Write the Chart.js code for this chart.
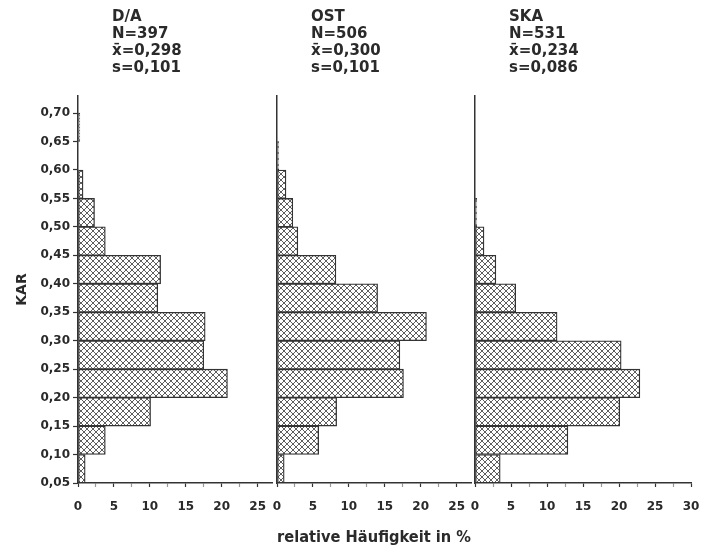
<!DOCTYPE html>
<html>
<head>
<meta charset="utf-8">
<script src="https://cdn.jsdelivr.net/npm/chart.js@4.4.0/dist/chart.umd.min.js"></script>
<style>
  html, body { margin: 0; padding: 0; background: #fff; }
  #wrap { position: relative; width: 714px; height: 555px; }
  canvas { position: absolute; top: 0; }
</style>
</head>
<body>
<div id="wrap">
  <canvas id="c1" width="284" height="555" style="left:0px"></canvas>
  <canvas id="c2" width="226" height="555" style="left:257px"></canvas>
  <canvas id="c3" width="258" height="555" style="left:455px"></canvas>
</div>
<script>
// Klassen der KAR-Werte (untere Grenze, Breite 0,05)
const klassen = [0.05, 0.10, 0.15, 0.20, 0.25, 0.30, 0.35, 0.40, 0.45, 0.50, 0.55, 0.60, 0.65];
const breite = 0.05;

// relative Häufigkeit in % je Klasse
const daWerte  = [1.0, 3.8, 10.1, 20.8, 17.5, 17.7, 11.1, 11.5, 3.8, 2.3, 0.7, 0, 0.25];
const ostWerte = [1.0, 5.8, 8.3, 17.6, 17.1, 20.8, 14.0, 8.2, 2.9, 2.2, 1.25, 0.25, 0];
const skaWerte = [3.5, 12.9, 20.1, 22.9, 20.3, 11.4, 5.65, 2.9, 1.25, 0.25, 0, 0, 0];

// Achsen
const yTicks = [0.05, 0.10, 0.15, 0.20, 0.25, 0.30, 0.35, 0.40, 0.45, 0.50, 0.55, 0.60, 0.65, 0.70];
const xTicksKurz = [0, 2.5, 5, 7.5, 10, 12.5, 15, 17.5, 20, 22.5, 25];
const xTicksLang = [0, 2.5, 5, 7.5, 10, 12.5, 15, 17.5, 20, 22.5, 25, 27.5, 30];

// Kopfzeilen
const kopfDA  = ['D/A', 'N=397', 'x\u0304=0,298', 's=0,101'];
const kopfOST = ['OST', 'N=506', 'x\u0304=0,300', 's=0,101'];
const kopfSKA = ['SKA', 'N=531', 'x\u0304=0,234', 's=0,086'];

const schrift = 'DejaVu Sans';
const dunkel = '#2a2a2a';

// Kreuzschraffur fuer die Balken
const kachel = document.createElement('canvas');
kachel.width = 6;
kachel.height = 6;
const kc = kachel.getContext('2d');
kc.fillStyle = '#fff';
kc.fillRect(0, 0, 6, 6);
kc.strokeStyle = '#5e5e5e';
kc.lineWidth = 1;
kc.beginPath();
kc.moveTo(-1, -1); kc.lineTo(7, 7);
kc.moveTo(7, -1); kc.lineTo(-1, 7);
kc.stroke();
const schraffur = kc.createPattern(kachel, 'repeat');

// Plugin: Kopfzeilen ueber jedem Histogramm
const kopfPlugin = {
  id: 'kopf',
  afterDraw(chart, args, opts) {
    const ctx = chart.ctx;
    ctx.save();
    ctx.font = 'bold 15px "' + schrift + '"';
    ctx.fillStyle = dunkel;
    ctx.textBaseline = 'middle';
    ctx.textAlign = 'left';
    opts.zeilen.forEach((t, i) => {
      ctx.fillText(t, chart.chartArea.left + opts.abstand, 17 + i * 17);
    });
    ctx.restore();
  }
};

const zeichne = (id, werte, kopf, xMax, xTicks, erste, mitte, rechts) => {
  const ctx = document.getElementById(id);
  return new Chart(ctx, {
    type: 'bar',
    data: {
      datasets: [{
        data: klassen.map((k, i) => ({ x: werte[i], y: k + breite / 2 })),
        backgroundColor: schraffur,
        borderColor: '#333',
        borderWidth: 1.3,
        borderSkipped: false,
        barPercentage: 1,
        categoryPercentage: 1
      }]
    },
    plugins: [kopfPlugin],
    options: {
      indexAxis: 'y',
      responsive: false,
      animation: false,
      devicePixelRatio: 1,
      layout: { padding: { top: 96, right: rechts, left: 0, bottom: 0 } },
      plugins: {
        legend: { display: false },
        tooltip: { enabled: false },
        kopf: { zeilen: kopf, abstand: 34 }
      },
      scales: {
        y: {
          type: 'linear',
          min: 0.05,
          max: 0.73,
          offset: false,
          afterBuildTicks: (axis) => { axis.ticks = yTicks.map(v => ({ value: v })); },
          afterFit: (axis) => { axis.width = erste ? 78 : 20; },
          ticks: {
            display: erste,
            padding: 3,
            color: dunkel,
            font: { family: schrift, size: 12, weight: 'bold' },
            callback: (v) => v.toFixed(2).replace('.', ',')
          },
          grid: { display: erste, offset: false, drawOnChartArea: false, tickLength: 5, tickColor: '#333', tickWidth: 1.2 },
          border: { display: true, color: '#333', width: 1.5 },
          title: {
            display: erste,
            text: 'KAR',
            color: dunkel,
            font: { family: schrift, size: 14, weight: 'bold' },
            padding: { top: 14, bottom: 0 }
          }
        },
        x: {
          type: 'linear',
          min: 0,
          max: xMax,
          afterBuildTicks: (axis) => { axis.ticks = xTicks.map(v => ({ value: v })); },
          afterFit: (axis) => { axis.height = 72; },
          ticks: {
            padding: 13,
            color: dunkel,
            autoSkip: false,
            maxRotation: 0,
            font: { family: schrift, size: 12, weight: 'bold' },
            callback: (v) => (v % 5 === 0 ? String(v) : '')
          },
          grid: {
            drawOnChartArea: false,
            tickLength: 4,
            tickWidth: 1.2,
            tickColor: (c) => (c.tick && c.tick.value % 5 === 0 ? '#333' : '#999')
          },
          border: { display: true, color: '#333', width: 1.5 },
          title: {
            display: mitte,
            text: 'relative Häufigkeit in %',
            color: dunkel,
            font: { family: schrift, size: 15, weight: 'bold' },
            padding: { top: 0, bottom: 8 }
          }
        }
      }
    }
  });
};

zeichne('c1', daWerte, kopfDA, 27, xTicksKurz, true, false, 12);
zeichne('c2', ostWerte, kopfOST, 27, xTicksKurz, false, true, 12);
zeichne('c3', skaWerte, kopfSKA, 30, xTicksLang, false, false, 22);
</script>
</body>
</html>
